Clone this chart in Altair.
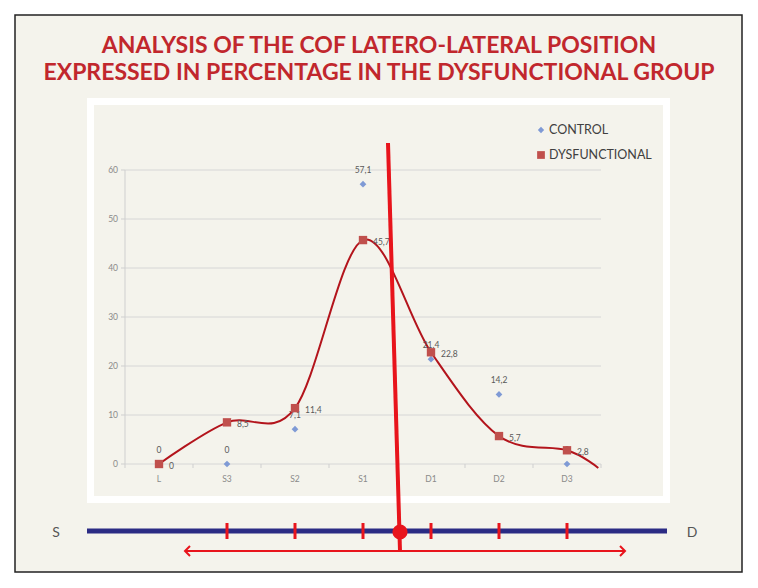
import altair as alt
import pandas as pd

# ---------------- data ----------------
categories = ["L", "S3", "S2", "S1", "D1", "D2", "D3"]
control = [0, 0, 7.1, 57.1, 21.4, 14.2, 0]
dysfunctional = [0, 8.5, 11.4, 45.7, 22.8, 5.7, 2.8]
control_labels = ["0", "0", "7,1", "57,1", "21,4", "14,2", "0"]
dys_labels = ["0", "8,5", "11,4", "45,7", "22,8", "5,7", "2,8"]
# smooth curve continues a little beyond D3 in the original
curve_tail_idx = [6.46]
curve_tail_val = [-0.8]
y_ticks = [0, 10, 20, 30, 40, 50, 60]
sd_tick_idx = [1, 2, 3, 4, 5, 6]
legend_names = ["CONTROL", "DYSFUNCTIONAL"]
title_lines = ["ANALYSIS OF THE COF LATERO-LATERAL POSITION",
               "EXPRESSED IN PERCENTAGE IN THE DYSFUNCTIONAL GROUP"]

# ---------------- geometry ----------------
W, H = 742, 572
X0_PX, X_STEP = 151, 68          # view px of category 0, px per category
Y0_PX, Y_UNIT = 456, 4.9         # view px of value 0, px per unit
XMIN = -X0_PX / X_STEP
XMAX = (W - X0_PX) / X_STEP
YMAX = Y0_PX / Y_UNIT
YMIN = (Y0_PX - H) / Y_UNIT
xs = alt.Scale(domain=[XMIN, XMAX], nice=False, zero=False)
ys = alt.Scale(domain=[YMIN, YMAX], nice=False, zero=False)

FONT = "Lato"
CREAM = "#f4f3ec"
RED = "#e8141c"
CURVE = "#b3141c"
BLUE_PT = "#7f9ad5"
SQ = "#c0504d"

idx = list(range(len(categories)))
df = pd.DataFrame({"i": idx, "cat": categories, "control": control,
                   "dys": dysfunctional, "cl": control_labels, "dl": dys_labels})
curve_df = pd.DataFrame({"i": idx + curve_tail_idx, "v": dysfunctional + curve_tail_val})
grid_df = pd.DataFrame({"v": y_ticks, "t": [str(t) for t in y_ticks]})
bound_df = pd.DataFrame({"i": [k + 0.5 for k in range(-1, 7)]})
sd_df = pd.DataFrame({"i": sd_tick_idx})
one = alt.Data(values=[{}])

X = lambda f: alt.X(f, scale=xs, axis=None)
Y = lambda f: alt.Y(f, scale=ys, axis=None)

frame = alt.Chart(one).mark_rect(fill=CREAM, stroke="#222222", strokeWidth=1.5).encode(
    x=alt.value(7), x2=alt.value(734), y=alt.value(7), y2=alt.value(564))
panel = alt.Chart(one).mark_rect(fill=CREAM, stroke="white", strokeWidth=7).encode(
    x=alt.value(82.5), x2=alt.value(658.5), y=alt.value(93.5), y2=alt.value(491.5))

grid = alt.Chart(grid_df).mark_rule(color="#d6d6d6", strokeWidth=1).encode(
    x=alt.value(117), x2=alt.value(593), y=Y("v:Q"))
ytickmarks = alt.Chart(grid_df).mark_rule(color="#cfcfcf").encode(
    x=alt.value(113), x2=alt.value(117), y=Y("v:Q"))
yaxis = alt.Chart(one).mark_rule(color="#cfcfcf").encode(
    x=alt.value(117), y=alt.value(Y0_PX - 60 * Y_UNIT), y2=alt.value(Y0_PX))
ylabels = alt.Chart(grid_df).mark_text(align="right", baseline="middle", font=FONT,
                                       fontSize=8.5, color="#8a8a8a").encode(
    x=alt.value(110), y=Y("v:Q"), text="t:N")
xtickmarks = alt.Chart(bound_df).mark_rule(color="#cfcfcf").encode(
    x=X("i:Q"), y=alt.value(Y0_PX), y2=alt.value(Y0_PX + 4))
xlabels = alt.Chart(df).mark_text(baseline="middle", font=FONT, fontSize=8.5,
                                  color="#8a8a8a").encode(
    x=X("i:Q"), y=alt.value(Y0_PX + 15), text="cat:N")

curve = alt.Chart(curve_df).mark_line(color=CURVE, strokeWidth=2,
                                      interpolate="cardinal").encode(
    x=X("i:Q"), y=Y("v:Q"), order="i:Q")

ctrl_lab = alt.Chart(df).mark_text(dy=-14, font=FONT, fontSize=8.5,
                                   color="#595959").encode(
    x=X("i:Q"), y=Y("control:Q"), text="cl:N")
ctrl_pts = alt.Chart(df).mark_point(shape="diamond", filled=True, size=45,
                                    color=BLUE_PT, opacity=1).encode(
    x=X("i:Q"), y=Y("control:Q"))
dys_pts = alt.Chart(df).mark_point(shape="square", filled=True, size=70,
                                   color=SQ, opacity=1).encode(
    x=X("i:Q"), y=Y("dys:Q"))
dys_lab = alt.Chart(df).mark_text(align="left", dx=10, dy=2, font=FONT, fontSize=8.5,
                                  color="#595959").encode(
    x=X("i:Q"), y=Y("dys:Q"), text="dl:N")

leg_ctrl_pt = alt.Chart(one).mark_point(shape="diamond", filled=True, size=40,
                                        color=BLUE_PT, opacity=1).encode(
    x=alt.value(533), y=alt.value(122))
leg_dys_pt = alt.Chart(one).mark_point(shape="square", filled=True, size=60,
                                       color=SQ, opacity=1).encode(
    x=alt.value(533), y=alt.value(147))
leg_ctrl_tx = alt.Chart(one).mark_text(align="left", baseline="middle", font=FONT,
                                       fontSize=12.5, color="#404040",
                                       text=legend_names[0]).encode(
    x=alt.value(541), y=alt.value(122))
leg_dys_tx = alt.Chart(one).mark_text(align="left", baseline="middle", font=FONT,
                                      fontSize=12.5, color="#404040",
                                      text=legend_names[1]).encode(
    x=alt.value(541), y=alt.value(147))

title1 = alt.Chart(one).mark_text(baseline="middle", font=FONT, fontSize=23,
                                  fontWeight="bold", color="#c1272d",
                                  text=title_lines[0]).encode(
    x=alt.value(371), y=alt.value(38))
title2 = alt.Chart(one).mark_text(baseline="middle", font=FONT, fontSize=23,
                                  fontWeight="bold", color="#c1272d",
                                  text=title_lines[1]).encode(
    x=alt.value(371), y=alt.value(65))

sd_line = alt.Chart(one).mark_rule(color="#2b2b84", strokeWidth=5).encode(
    x=alt.value(79), x2=alt.value(659), y=alt.value(523))
sd_ticks = alt.Chart(sd_df).mark_rule(color=RED, strokeWidth=3).encode(
    x=X("i:Q"), y=alt.value(515), y2=alt.value(531))
s_txt = alt.Chart(one).mark_text(baseline="middle", font=FONT, fontSize=14,
                                 color="#555555", text="S").encode(
    x=alt.value(48), y=alt.value(525))
d_txt = alt.Chart(one).mark_text(baseline="middle", font=FONT, fontSize=14,
                                 color="#555555", text="D").encode(
    x=alt.value(684), y=alt.value(525))

big_line = alt.Chart(one).mark_rule(color=RED, strokeWidth=4).encode(
    x=alt.value(380), x2=alt.value(392), y=alt.value(135), y2=alt.value(543))
dot = alt.Chart(one).mark_point(shape="circle", filled=True, size=230, color=RED,
                                opacity=1).encode(x=alt.value(392), y=alt.value(524))
arrow = alt.Chart(one).mark_rule(color=RED, strokeWidth=2).encode(
    x=alt.value(177), x2=alt.value(617), y=alt.value(543))
head_l = alt.Chart(one).mark_point(shape="M1,-1L0,0L1,1", filled=False, size=100,
                                   color=RED, strokeWidth=2, opacity=1).encode(
    x=alt.value(177), y=alt.value(543))
head_r = alt.Chart(one).mark_point(shape="M-1,-1L0,0L-1,1", filled=False, size=100,
                                   color=RED, strokeWidth=2, opacity=1).encode(
    x=alt.value(617), y=alt.value(543))

chart = alt.layer(
    frame, panel, grid, ytickmarks, yaxis, ylabels, xtickmarks, xlabels,
    curve, ctrl_lab, ctrl_pts, dys_pts, dys_lab,
    leg_ctrl_pt, leg_dys_pt, leg_ctrl_tx, leg_dys_tx, title1, title2,
    sd_line, sd_ticks, s_txt, d_txt, big_line, dot, arrow, head_l, head_r,
).properties(
    width=W, height=H, padding=0, autosize=alt.AutoSizeParams(type="none"),
    background="white",
).configure_view(strokeWidth=0)

chart.save("out.html", embed_options={"renderer": "svg", "actions": False})
